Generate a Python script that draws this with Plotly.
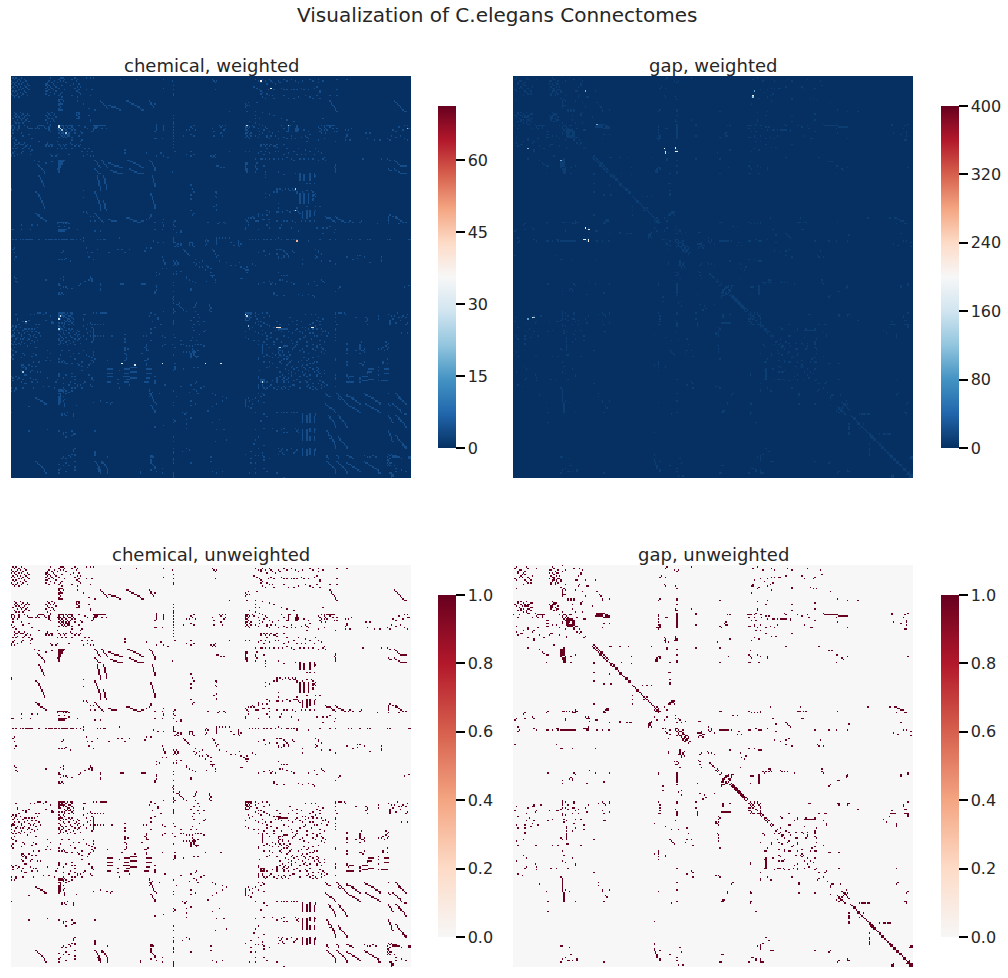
import numpy as np
import plotly.graph_objects as go

N = 279

titles = ['chemical, weighted', 'gap, weighted', 'chemical, unweighted', 'gap, unweighted']
chem_ticks = [0, 15, 30, 45, 60]
gap_ticks = [0, 80, 160, 240, 320, 400]
binary_ticks = [0.0, 0.2, 0.4, 0.6, 0.8, 1.0]
chem_max = 71.25
gap_max = 400
chem_base_weight = 4
gap_base_weight = 10

# (row, col) of the non zero cells
chem_cells = [
    # top left block
    (1,1),(1,3),(1,7),(2,2),(2,5),(2,9),(3,0),(3,4),(3,6),(3,10),(4,1),(4,3),(4,8),(5,0),(5,2),(5,5),(5,7),(5,11),
    (6,3),(6,9),(6,12),(7,1),(7,4),(7,6),(7,10),(8,0),(8,2),(8,8),(8,11),(9,5),(9,7),(9,12),(10,1),(10,3),(10,9),
    (11,2),(11,6),(11,10),(12,0),(12,4),(12,8),(13,1),(13,3),(13,7),(13,11),(14,2),(14,5),
    (1,27),(1,34),(1,35),(1,36),(1,44),(2,33),(2,37),(2,42),(2,46),(3,26),(3,30),(3,34),(3,36),(3,45),(4,25),(4,28),(4,32),(4,38),
    (5,24),(5,25),(5,29),(5,43),(5,47),(6,24),(6,26),(6,30),(6,35),(6,41),(7,25),(7,27),(7,31),(7,46),(7,48),(8,24),(8,28),(8,33),
    (8,44),(9,26),(9,29),(9,37),(9,47),(10,24),(10,25),(10,31),(10,45),(10,46),(11,27),(11,35),(11,47),(12,24),(12,30),(12,34),(12,48),
    (13,26),(13,33),(13,42),(14,35),(14,46),(1,52),(1,55),(1,57),(9,52),(9,56),(13,55),(2,76),(2,87),(2,106),(3,112),(6,113),(9,113),(8,106),(12,113),(13,113),
    (16,33),(16,34),(16,35),(17,33),(17,36),(18,34),(19,33),(19,34),(19,35),(20,33),(21,34),(22,33),(23,33),(23,34),(23,35),(17,46),(19,50),(22,54),(23,58),
    # top streaks
    (17,62),(18,63),(19,64),(20,65),(21,66),(22,67),(20,68),(20,69),(21,70),(21,71),(21,72),(22,73),(22,74),(23,75),(23,76),
    (17,80),(17,81),(18,82),(18,83),(19,84),(19,85),(20,86),(20,87),(21,88),(21,89),(22,90),(23,91),(23,92),(17,96),(18,97),(19,97),(20,98),(21,99),(19,100),
    # second row of blocks
    (25,2),(25,6),(26,3),(26,8),(26,11),(27,2),(27,4),(27,7),(27,10),(27,12),(28,3),(28,5),(28,9),(29,1),(29,6),(29,8),(29,11),(30,4),(30,7),(30,10),(31,2),(31,9),(31,12),
    (32,3),(32,5),(32,8),(25,25),(25,28),(26,26),(26,30),(27,24),(27,27),(27,29),(28,25),(28,31),(29,26),(29,28),(30,24),(30,29),(31,27),(31,30),(32,25),
    (25,45),(25,46),(25,47),(26,45),(26,47),(27,45),(27,46),(28,47),(29,45),(29,46),(29,47),(31,55),(30,55),(27,54),
    (34,0),(34,1),(34,5),(34,9),(35,0),(35,2),(35,5),(35,11),(36,0),(36,2),(36,5),(37,1),(37,4),(36,12),(36,13),(36,14),(36,17),
    (34,19),(34,20),(34,21),(34,22),(35,18),(35,23),(36,19),(36,24),(35,26),(36,26),(37,26),(38,27),(34,27),(33,27),
    (34,33),(34,34),(34,35),(34,36),(34,38),(34,40),(34,41),(34,42),(35,33),(35,36),(35,39),(35,42),(36,32),(36,33),(36,34),(36,36),(36,37),(36,40),(36,41),(36,43),
    (37,33),(37,35),(37,38),(37,42),(38,34),(38,36),(38,39),(38,41),(39,33),(39,35),(39,36),(39,38),(39,40),(39,44),(40,34),(40,36),(40,38),(40,39),(40,40),(41,35),(41,37),(41,39),(41,40),(42,33),(42,36),(42,38),(42,42),
    (34,47),(35,51),(36,53),(37,44),(38,48),(39,49),(41,47),(34,57),(34,58),(34,59),(34,60),(34,61),(34,62),(34,63),(34,64),(34,65),(35,58),(35,59),(35,60),(36,57),(36,58),(36,59),(36,63),(36,66),(37,57),(38,56),
    (33,101),(34,101),(35,101),(36,101),(37,101),(38,100),(34,106),(35,106),(36,106),(37,106),(27,113),(29,113),(31,113),(32,113),(33,113),(35,113),(37,113),(39,113),(41,113),(43,113),(45,113),(47,113),(49,113),
    (35,125),(37,122),(34,127),(36,126),(37,128),(36,126),(37,124),(41,127),(41,120),(40,125),(43,100),(43,105),(43,101),
    (39,1),(41,0),(42,2),(43,1),(39,7),(41,8),(40,12),(43,14),(44,3),(45,19),(46,25),(45,32),(44,42),(46,41),(45,48),(44,49),
    (46,2),(46,5),(46,9),(47,3),(47,4),(47,6),(47,7),(47,8),(47,11),(47,24),(47,25),(47,27),(47,28),(47,33),(47,36),(47,38),(47,42),(47,45),(47,48),(48,2),(48,10),(48,13),(48,24),(48,26),(48,28),(48,34),(48,37),(48,44),(48,47),
    (49,4),(49,9),(50,1),(50,3),(50,8),(50,12),(50,32),(50,35),(50,38),(50,42),(50,51),(50,54),(51,14),(52,2),(52,8),(52,13),(52,49),(52,53),(52,56),(53,1),(53,7),(54,0),(54,4),(54,13),(54,27),(54,32),(54,40),(54,53),(55,0),(55,2),(55,28),(55,31),(55,50),(55,55),(55,57),
    (51,79),(53,79),(53,94),(55,101),(53,104),(55,106),(56,109),(52,114),(54,122),(55,125),(54,127),(52,125),
    # middle left
    (58,33),(58,34),(58,35),(58,36),(58,37),(59,33),(59,34),(59,35),(59,36),(60,33),(60,34),(60,35),(61,33),(61,34),(61,35),(62,33),(62,34),(63,33),(63,34),(64,32),(64,33),(65,33),(66,33),(59,28),(58,16),(59,19),(60,24),
    (61,18),(62,19),(63,20),(64,21),(65,22),(66,23),(67,23),(69,19),(70,20),(71,20),(72,21),(73,21),(74,22),(75,22),(76,23),
    (80,17),(81,18),(82,19),(83,19),(84,20),(85,20),(86,21),(87,21),(88,22),(89,22),(90,23),(91,23),(95,17),(96,18),(96,19),(97,19),(98,20),(98,21),(99,22),(99,23),(100,24),(78,0),(79,0),
    (84,50),(79,50),(94,52),(94,50),(95,53),(97,55),(97,57),(100,55),(100,58),
    # square of streaks
    (58,58),(59,59),(60,60),(61,60),(62,61),(63,62),(58,63),(59,64),(60,64),(61,65),(62,66),(63,67),(60,68),(60,69),(61,70),(61,71),(62,72),(62,73),(62,74),(63,75),(63,76),(63,77),
    (58,81),(58,82),(59,83),(59,84),(60,85),(60,86),(61,87),(61,88),(62,89),(62,90),(63,91),(63,92),(58,96),(59,97),(60,98),(61,98),(62,99),(63,100),(64,100),(65,100),
    (64,58),(65,59),(66,60),(67,61),(67,62),(65,69),(65,70),(66,71),(66,72),(66,73),(67,74),(67,75),(67,76),(67,77),(64,82),(64,83),(65,84),(65,85),(66,86),(66,87),(67,88),(67,89),(67,90),(67,91),(67,92),
    (69,60),(70,60),(71,60),(72,61),(73,61),(74,61),(75,61),(76,62),(77,62),(78,62),(79,62),(69,64),(70,64),(71,65),(72,65),(73,65),(74,65),(75,66),(76,66),(77,66),(78,66),(69,98),(70,98),(71,99),(72,99),(73,99),(74,100),(75,100),(76,100),
    (80,58),(81,58),(82,59),(83,59),(84,60),(85,60),(86,61),(87,61),(88,61),(89,62),(90,62),(91,62),(92,62),(93,62),(86,64),(87,64),(88,65),(89,65),(90,65),(91,65),(92,66),(93,66),(81,97),(82,97),(83,98),(84,98),(85,98),(86,99),(87,99),(88,99),(89,100),(90,100),(91,100),
    (95,58),(96,59),(97,60),(98,61),(99,62),(100,63),(101,64),(99,68),(99,69),(100,70),(100,71),(100,72),(100,73),(98,80),(98,81),(98,82),(99,83),(99,84),(100,85),(100,86),(100,87),(101,88),(101,89),(101,90),(100,91),(100,92),(99,94),(98,96),(97,97),(96,97),
    (66,112),(75,125),(82,125),(78,126),(85,125),(80,127),(93,125),(95,127),(96,126),(101,100),(101,105),(99,106),(103,106),(104,106),(106,105),(106,100),(106,113),(103,113),(101,113),(100,114),(104,114),(108,115),(107,118),(108,118),
    # rows around 100 to 130
    (101,32),(101,33),(101,34),(101,35),(101,36),(101,37),(101,38),(101,39),(102,32),(102,36),(102,38),(102,40),(103,7),(103,14),(103,18),(104,33),(104,37),(105,40),
    (106,0),(106,1),(106,7),(106,13),(106,33),(106,34),(106,35),(106,36),(106,37),(106,38),(107,33),(107,34),(107,35),(107,36),(107,37),(106,46),(107,58),(107,62),
    (113,1),(113,3),(113,6),(113,8),(113,10),(113,11),(113,12),(113,13),(113,14),(113,19),(113,24),(113,26),(113,27),(113,28),(113,30),(113,31),(113,33),(113,35),(113,36),(113,37),(113,38),(113,39),(113,41),(113,42),(113,43),(113,45),(113,48),(112,50),(114,50),(113,60),(113,62),(113,64),(113,65),(114,99),(115,102),(115,106),
    (120,1),(119,2),(122,2),(125,3),(127,2),(122,35),(121,36),(127,33),(127,35),(127,37),(126,38),(128,41),(119,52),(122,53),(122,56),(125,54),(127,57),(120,60),(122,68),(120,74),(120,77),(120,82),(122,79),(119,94),(121,93),(119,97),(127,106),(128,106),(129,107),(130,107),(125,105),
    (112,113),(113,113),(114,113),(115,114),(115,113),(116,116),(117,115),(118,114),(116,118),(117,118),(118,116),(115,124),(116,124),(115,126),(116,126),(117,126),(115,125),(117,124),(114,135),(116,136),(117,135),(118,127),(120,120),(121,121),(122,122),(123,123),(124,124),
    (128,113),(128,115),(129,114),(129,116),(130,116),(130,114),(131,113),(131,115),(127,128),(129,127),(130,129),(128,133),(129,131),(131,128),(132,133),(132,131),(135,115),(135,118),(137,103),(133,108),(133,105),(136,101),(112,75),
    # top right
    (2,140),(3,141),(4,142),(3,143),(9,142),(2,170),(3,172),(4,174),(2,175),(3,177),(5,178),(2,180),(3,181),(4,182),(5,184),(3,186),(4,187),(2,190),(3,192),(2,195),(3,198),(4,200),(3,203),(2,208),(3,210),(2,214),(3,217),(4,214),(2,227),(2,234),
    (7,169),(8,171),(9,173),(10,174),(11,175),(9,179),(8,181),(9,183),(8,188),(9,190),(9,192),(9,195),(9,197),(9,199),(8,202),(9,204),(9,207),(8,211),(7,213),(10,215),(12,174),(12,178),(13,180),(13,182),(14,175),(15,177),(15,183),(13,190),(15,193),(15,197),(14,200),(13,205),(14,208),(15,210),(13,213),(15,215),(13,222),(11,215),(9,227),(13,227),
    (19,163),(20,164),(18,165),(20,166),(21,163),(18,171),(24,164),(17,222),(18,223),(19,223),(20,224),(21,225),(22,226),(23,226),(24,227),(17,267),(18,268),(19,269),(20,270),(21,271),(22,272),(23,273),(24,274),(24,275),
    (24,152),(24,170),(25,175),(26,180),(27,183),(29,170),(29,173),(29,188),(30,192),(31,197),(29,217),(27,170),(31,166),(32,170),
    # rows 33 to 57, right part
    (36,140),(38,141),(34,145),(34,147),(34,149),(35,146),(36,149),(37,148),(39,146),(41,147),(41,141),
    (34,163),(34,164),(34,165),(35,163),(35,164),(35,166),(36,163),(36,165),(37,163),(37,164),(34,168),(35,169),(38,165),(39,163),(39,164),(39,167),(40,163),(40,166),(41,164),(41,167),(42,163),(42,165),(43,166),(41,170),(42,172),
    (33,173),(34,175),(35,177),(36,172),(36,178),(37,176),(38,173),(38,180),(39,175),(39,182),(40,173),(41,178),(41,181),(41,184),(42,178),(43,180),(43,186),(38,186),(34,188),(36,190),(38,192),(42,190),(43,192),
    (34,193),(34,194),(35,193),(36,193),(37,193),(38,193),(34,199),(35,199),(36,198),(36,199),(36,200),(37,198),(37,199),(37,200),(38,198),(38,199),(41,195),(43,195),(43,198),(42,202),(37,204),(38,207),(40,208),(41,205),(42,206),(43,207),(45,206),
    (34,216),(34,218),(34,220),(34,221),(34,222),(34,223),(34,224),(34,225),(35,214),(35,218),(35,222),(36,215),(36,219),(36,224),(36,227),(37,216),(37,218),(37,220),(38,215),(38,225),(38,227),(39,216),(39,219),(44,214),(43,218),(45,226),
    (36,237),(37,235),(37,233),(40,234),(41,234),(42,233),(44,233),(44,236),(39,247),(39,250),(43,248),(44,253),(44,257),(43,262),(37,266),(41,265),(38,268),(35,270),(34,274),(34,276),(37,273),(41,271),(44,264),(42,268),(43,274),(36,277),(44,276),
    (47,174),(47,176),(47,178),(47,181),(48,183),(47,185),(47,190),(48,174),(48,177),(48,180),(48,184),(49,185),(50,178),(50,192),(50,200),(51,205),(50,212),(52,152),(52,163),(52,166),(53,172),(54,176),
    (52,174),(52,177),(53,180),(52,184),(52,186),(54,190),(53,193),(52,197),(54,199),(54,202),(54,205),(52,208),(54,211),(52,214),(53,216),(55,139),(55,141),(56,140),(56,142),(54,142),
    (57,170),(57,174),(57,175),(57,177),(57,180),(57,183),(57,186),(57,189),(56,192),(57,195),(58,197),(57,201),(57,204),(57,207),(57,210),(58,214),(57,217),(58,219),(56,218),(57,245),(57,258),(57,262),(58,264),
    # rows 58 to 100, right part
    (60,163),(61,163),(62,163),(63,163),(64,163),(65,163),(60,164),(61,164),(64,164),(65,164),(66,164),(63,170),(60,171),(62,170),(64,171),(66,170),(62,176),(66,177),(62,143),(62,144),(63,146),(63,148),(62,226),(63,225),(64,226),(65,226),(66,226),(61,226),
    (58,267),(59,268),(60,269),(61,270),(62,271),(62,272),(62,273),(62,274),(62,275),(64,263),(65,264),(65,265),(64,267),(65,268),(66,270),(67,271),(67,272),(67,273),(67,274),(67,275),
    (67,201),(68,201),(69,201),(70,201),(71,201),(72,201),(68,204),(69,204),(70,204),(71,204),(72,204),(67,208),(68,208),(69,208),(70,208),(71,208),(72,208),(67,211),(68,211),(69,211),(70,211),(69,212),(74,206),(74,208),(74,211),(68,177),(66,186),(67,198),(70,177),(66,177),(68,190),
    (78,185),(78,187),(79,185),(79,189),(78,191),(78,193),(79,194),(78,196),(79,197),(79,198),(80,199),(81,199),(81,177),(84,177),(80,183),(80,185),(81,201),(80,203),(79,206),(79,209),(80,210),(82,211),(82,180),(80,143),(81,143),(80,142),(83,142),(84,143),
    (81,201),(82,201),(83,201),(84,201),(85,201),(86,201),(87,201),(88,201),(81,204),(82,204),(83,204),(84,204),(85,204),(86,204),(87,204),(88,204),(81,207),(82,207),(83,207),(84,207),(85,207),(86,207),(87,207),(88,207),(82,210),(83,210),(85,210),(86,210),(81,212),(83,212),
    (88,186),(91,186),(91,199),(90,206),(90,212),(90,215),(94,180),(94,186),(94,189),(93,192),(94,194),(93,197),(93,199),(94,185),(94,200),(95,201),
    (94,203),(95,203),(96,203),(97,203),(98,203),(93,206),(94,206),(95,206),(96,206),(97,206),(98,206),(93,208),(94,208),(95,208),(96,208),(97,208),(94,211),(95,211),(96,211),(93,212),(93,178),(95,172),
    (90,141),(92,143),(93,143),(89,143),(96,178),(96,175),(96,172),(97,168),(97,172),(98,165),(98,167),(98,169),(99,163),(99,175),(99,176),(99,179),(100,164),(99,180),(101,165),(100,170),(100,171),(100,172),(100,185),(100,190),(100,192),(100,196),(101,198),(100,202),(100,205),(100,208),(100,211),
    (97,219),(98,220),(98,221),(98,222),(99,223),(100,224),(100,225),(101,226),(97,226),(98,227),(99,228),(99,229),(100,230),(100,231),(101,232),(101,233),(101,235),(101,238),(101,243),(100,236),
    (97,263),(98,263),(99,263),(100,263),(96,264),(97,266),(97,268),(98,268),(98,269),(99,270),(100,271),(100,272),(101,273),(101,275),(102,263),(102,270),(100,244),(102,255),
    (101,137),(101,145),(102,144),(101,148),(102,149),(105,163),(106,163),(103,165),(106,172),(103,178),(103,188),(105,180),(105,187),(101,180),(105,213),(105,217),(107,200),(105,195),(109,217),(108,225),(106,226),(105,220),(104,222),
    (113,166),(113,168),(113,170),(113,172),(113,176),(113,178),(113,181),(113,184),(112,186),(113,188),(113,192),(113,193),(113,195),(113,197),(113,199),(114,207),(113,215),(113,222),(113,226),(113,235),(113,237),(113,243),(113,248),(113,250),(113,262),(113,264),(113,277),(113,278),
    (112,143),(113,143),(114,143),(115,143),(116,143),(113,136),(114,137),(112,145),(112,147),(112,149),(112,152),(114,158),(115,158),(116,158),(117,158),(118,159),(115,153),(117,155),(116,160),
    (120,140),(121,141),(123,142),(125,143),(124,144),(128,145),(129,150),(131,153),(131,156),(129,159),(132,160),(133,162),(134,163),(134,164),(134,165),
    (122,172),(121,176),(124,177),(123,180),(120,185),(123,185),(125,190),(120,188),(125,193),(121,196),(122,197),(124,190),(121,190),(122,191),(123,192),(124,193),(125,186),(126,186),(126,188),(120,187),(127,203),(130,203),(120,212),(122,214),(124,212),(121,214),(123,216),(125,213),(126,212),(128,216),(130,226),
    (125,234),(126,241),(124,241),(124,243),(125,246),(129,250),(128,258),(125,258),(127,258),(127,238),(128,222),(130,226),
    (131,136),(132,137),(133,139),(134,135),(136,139),(138,139),(136,164),(132,164),(130,168),(131,170),(136,186),
    # rows 137 to 163
    (139,2),(140,3),(142,3),(143,4),(141,24),(140,34),(141,36),(139,36),(144,33),(145,33),(145,34),(146,36),(146,38),(147,39),(147,34),(147,42),(145,47),(144,48),(142,51),(141,54),(141,56),(140,55),(139,55),(140,56),(142,56),(144,62),(145,62),(147,62),(148,62),
    (144,76),(144,77),(144,78),(144,91),(144,92),(144,93),(138,101),(145,101),(146,101),(148,101),(149,100),(150,100),(145,113),(143,113),(149,113),(139,122),(140,122),(141,124),(142,126),(143,128),(147,125),(148,125),(137,113),(137,115),
    (150,33),(151,34),(151,36),(150,35),(150,33),(151,33),(153,113),(154,112),(155,113),(157,113),(158,115),(157,117),(158,116),(159,117),(160,118),(161,119),(162,120),(163,122),(159,128),(160,127),(163,128),(158,128),(157,129),
    (161,113),(162,113),(163,114),
    (139,140),(141,142),(138,141),(143,142),(142,136),(140,160),(140,161),(138,140),(144,172),(143,176),(142,180),(143,182),(144,181),(144,184),(142,192),(143,195),(141,189),(141,187),(138,188),(138,190),(138,192),(144,197),(144,207),(142,211),(145,213),(141,216),(142,217),(143,218),(149,226),(146,229),(147,228),(145,277),(146,274),(152,203),(152,185),(152,190),(151,200),(151,207),(152,210),(153,211),(150,183),(151,183),
    (158,138),(159,138),(160,139),(161,139),(162,138),(163,139),
    # block rows 164 to 222, left
    (165,3),(165,13),(165,16),(164,18),(164,19),(164,20),(165,22),(166,27),(164,24),(168,4),(169,4),(170,8),(171,10),(169,12),(172,5),(172,17),(172,19),(170,28),(171,29),
    (164,33),(164,34),(164,35),(164,36),(164,37),(164,39),(164,41),(164,42),(165,33),(165,35),(165,38),(165,42),(166,33),(166,34),(166,35),(166,36),(166,37),(166,40),(166,41),(167,33),(167,36),(167,38),(167,42),(168,33),(168,34),(168,39),(168,40),(168,43),(169,37),(169,39),(169,41),(170,38),(170,40),(170,41),(170,43),(171,35),(171,37),(171,42),(172,37),(172,40),(172,43),
    (165,50),(165,51),(168,50),(169,50),(164,57),(164,59),(164,62),(164,63),(164,64),(164,65),(164,66),(171,33),(169,24),(171,28),
    (171,55),(172,53),(172,56),(172,58),(172,60),(172,62),(172,64),
    (173,1),(173,3),(174,0),(174,3),(174,6),(175,2),(175,9),(175,10),(175,12),(175,14),(175,16),(174,18),(176,1),(176,4),(176,8),(177,11),(177,14),(177,17),(178,2),(178,5),(178,9),(178,19),(179,1),(179,7),(179,12),(179,16),
    (180,0),(180,1),(180,2),(180,7),(180,13),(180,15),(180,20),(181,0),(181,4),(181,9),(181,17),(182,3),(182,6),(182,8),(182,12),(183,0),(183,11),(183,14),(183,18),(184,2),(184,7),(184,16),(185,0),(185,5),(185,9),(185,13),(186,1),(186,3),
    (173,33),(173,36),(174,37),(174,34),(175,33),(175,34),(175,35),(175,40),(175,42),(176,33),(176,36),(176,38),(176,41),(176,46),(177,34),(177,43),(177,47),(178,36),(178,40),(178,45),(179,33),(179,37),(179,44),(179,47),(180,34),(180,41),(180,46),(181,35),(181,38),(181,42),(181,48),(182,33),(182,36),(182,44),(182,47),(183,33),(183,35),(183,40),(183,46),(184,34),(184,38),(184,43),(185,34),(185,36),(185,41),(185,48),(186,33),(186,39),(186,44),
    (173,50),(175,52),(177,55),(178,53),(180,50),(180,55),(182,52),(184,56),(174,56),(175,57),(176,57),(177,57),(178,57),(179,57),(180,57),(181,57),(182,57),(183,57),(180,58),(180,60),(180,62),(180,64),(180,70),(179,79),(182,79),(184,79),(180,92),(180,94),(175,97),(178,97),(183,97),(174,100),(172,104),
    (186,6),(187,11),(188,17),(188,2),(189,0),(190,1),(191,3),(193,1),(194,0),(195,0),(195,7),(192,8),(193,9),(192,15),(194,14),(196,1),(193,17),(190,25),(195,25),(192,27),(197,27),(196,33),(193,34),(190,35),(198,33),(198,35),(197,36),(198,37),(199,38),(199,39),(190,40),(194,41),(192,43),(196,44),(199,42),(199,46),(200,47),(192,47),(190,50),(193,52),
    (198,15),(198,19),(200,12),(201,9),(197,24),(194,54),(195,56),(191,57),(193,57),(197,56),(198,57),(199,55),(200,54),(196,58),
    (200,7),(200,8),(201,7),(202,8),(202,10),(203,10),(204,7),(205,8),(201,14),(201,17),(204,14),(205,13),(205,18),(205,20),(207,9),(207,10),(208,0),(208,3),(209,1),(209,5),(209,13),(210,4),(210,8),(210,15),(210,17),(211,1),(212,7),(212,14),(212,18),(209,25),(212,31),(210,32),(213,9),(213,10),(213,36),(213,44),
    (198,49),(201,49),(204,49),(202,53),(207,54),(212,51),(213,50),(214,48),(214,46),(215,46),(216,44),(214,55),(215,56),(209,56),(210,56),(211,57),(206,33),(207,33),(208,33),(207,38),(209,36),(212,41),(214,40),(208,44),(210,44),(206,42),(208,42),
    (216,0),(216,3),(216,8),(217,3),(216,15),(215,26),(216,30),(217,33),(217,34),(217,35),(216,36),(217,37),(218,36),(218,35),(218,38),(219,36),(220,33),(219,40),(218,42),(216,49),(220,38),(216,42),(215,22),(218,0),(218,2),
    (197,67),(197,79),(195,80),(196,80),(189,79),(188,79),(192,79),(193,80),(189,81),(190,79),(190,94),(190,95),(189,94),(188,93),(192,91),(187,94),(186,94),(197,94),(199,94),(200,94),(196,95),
    # horizontal dashes
    (203,67),(203,68),(203,69),(203,70),(206,67),(206,68),(206,69),(206,70),(208,67),(208,68),(208,69),(208,70),(212,67),(212,68),(212,69),(203,79),(203,80),(203,81),(203,82),(206,79),(206,80),(206,81),(208,78),(208,79),(208,80),(208,81),(208,82),(210,80),(210,81),(212,79),(212,80),(212,81),
    (202,83),(202,84),(202,85),(202,86),(202,87),(205,83),(205,84),(205,85),(205,86),(205,87),(209,83),(209,84),(209,85),(209,86),(209,87),
    (203,94),(203,95),(203,96),(203,97),(206,94),(206,95),(206,96),(206,97),(209,94),(209,95),(209,96),(212,93),(212,94),(212,95),(197,93),(211,100),(208,100),(212,100),(213,100),(217,96),(214,107),(218,96),
    (204,75),(210,74),(213,74),(216,75),(210,82),(214,82),(220,96),(222,96),(219,98),(220,103),
    # blocks down the middle
    (164,97),(165,100),(166,96),(167,102),(168,102),(170,98),(169,113),(170,113),(171,113),(172,113),(163,106),(164,113),(180,105),(181,107),(179,113),(183,118),(186,112),(188,114),(186,118),(186,120),(187,122),(187,124),(187,126),(186,128),(186,130),(186,132),(187,134),
    (191,120),(191,122),(191,124),(191,126),(191,128),(190,130),(192,125),(193,125),(194,125),(195,125),(189,126),(190,127),(191,127),(192,127),(193,127),(194,128),(194,129),(194,130),(195,129),
    (169,125),(167,127),(165,130),(167,131),(170,130),(172,131),(172,127),(174,126),(170,134),(176,135),(183,129),(183,125),(181,126),(179,131),(177,134),(176,127),(181,114),(186,107),(187,105),(193,113),(199,114),(201,114),(202,114),(203,114),(204,113),(215,118),(218,113),(214,125),(213,128),(216,132),(215,134),(212,129),(218,129),(220,130),(217,127),(219,124),(222,115),(202,127),(202,130),(203,120),
    # bottom left
    (222,33),(223,33),(224,33),(225,33),(226,33),(227,33),(220,34),(221,34),(222,34),(223,34),(224,34),(225,34),(226,34),(218,33),(218,34),(222,36),(224,37),(225,36),(227,37),(228,37),(229,37),(228,45),(223,17),(224,18),(224,19),(225,20),(225,21),(226,22),(226,23),(227,23),(227,24),
    (229,12),(226,57),(225,62),(226,66),(227,69),(226,70),(226,67),(221,97),(222,98),(223,98),(224,99),(225,99),(226,100),(220,97),(228,97),(229,98),(230,98),(231,99),(232,100),(233,100),(227,101),(226,113),(228,113),(228,125),(227,128),(225,125),
    (233,0),(234,35),(234,37),(235,38),(235,35),(233,39),(234,43),(236,43),(235,43),(237,125),(238,113),(239,114),(240,113),(233,119),(234,121),(233,122),(238,122),(241,122),(244,122),
    (246,12),(245,25),(246,33),(247,36),(248,36),(247,38),(250,38),(249,42),(248,43),(246,58),(246,42),(248,44),(243,100),(242,106),(250,113),
    (260,119),(258,122),(259,124),(258,113),(261,113),(260,113),(253,113),(259,43),(258,44),(260,43),(262,42),(262,44),(263,44),(260,58),(261,58),(262,58),(263,58),(264,36),(265,35),(265,38),(264,41),(263,40),(264,67),(264,98),(264,99),(264,97),(263,97),(263,98),(265,113),(266,113),
    (267,17),(268,18),(269,19),(270,20),(271,21),(272,22),(273,23),(274,23),(275,24),(269,33),(270,36),(270,40),(268,38),(267,44),(272,34),(273,33),(275,33),(274,38),(271,44),(273,44),
    (267,58),(268,59),(269,60),(270,60),(271,61),(272,61),(273,62),(274,62),(275,62),(272,60),(273,61),(274,61),(267,63),(268,64),(269,65),(270,65),(271,66),(272,67),(273,67),(274,67),(275,67),(268,63),
    (267,97),(268,97),(269,98),(270,99),(271,100),(272,100),(273,97),(274,90),(275,90),(266,97),(272,105),(275,105),(274,101),(277,113),(278,113),(276,113),(275,113),(268,113),(268,125),
    # main block right, rows 164 to 222
    (164,163),(164,164),(164,165),(164,166),(164,167),(165,163),(165,165),(165,167),(166,163),(166,164),(166,166),(167,164),(167,165),(167,167),(168,163),(168,166),(169,163),(169,164),(169,165),(164,170),(165,172),(166,170),(168,171),(170,172),(170,174),(171,170),(172,172),(173,174),
    (164,175),(164,178),(167,176),(166,180),(171,176),(172,178),(173,180),(174,183),(170,185),(172,187),(172,193),(170,196),(169,199),(172,199),(170,202),(174,203),(167,194),(165,205),(165,209),(165,212),(167,214),(168,217),(169,213),(170,215),(172,215),(171,210),(172,208),(174,205),(175,210),(175,213),(175,216),(176,219),(177,217),(173,212),
    (175,166),(174,168),(177,163),(177,170),(178,172),(176,175),(178,177),(179,175),(180,178),(178,181),(176,184),(175,186),(175,187),(175,188),(175,189),(175,190),(175,191),(175,192),(176,186),(177,188),(177,193),(178,196),(176,198),(175,199),(177,201),(178,203),(176,205),(175,207),(178,208),(178,210),(180,205),(180,211),(179,216),(177,219),(178,221),(180,220),
    (181,163),(182,165),(183,169),(183,172),(184,176),(182,178),(181,181),(184,183),(182,185),(184,188),(180,190),(181,193),(183,195),(184,199),(182,201),(181,204),(184,206),(182,209),(180,213),(183,215),(184,218),
    (186,172),(186,175),(187,175),(188,175),(189,175),(190,175),(191,175),(186,178),(188,180),(186,183),(188,186),(187,190),(187,191),(187,192),(188,187),(189,186),(188,189),(190,187),(191,186),(190,189),(191,189),(192,186),(193,187),(191,193),(193,194),(189,196),(188,197),(187,198),(186,199),(185,196),(187,206),(186,210),(187,213),(186,215),(189,210),(188,213),(190,212),(188,216),(191,216),(192,218),(190,219),(189,217),(191,204),(192,207),(190,201),(189,203),
    (192,175),(193,178),(194,176),(194,180),(192,182),(195,182),(193,184),(195,186),(194,188),(193,190),(194,192),(195,193),(196,190),(196,192),(197,195),(198,194),(199,193),(200,192),(199,188),(197,188),(198,187),(195,172),(196,172),(198,180),(199,182),(198,176),(198,200),(197,202),(195,204),(196,207),(197,206),(195,210),(198,211),(199,208),(194,214),(198,213),(199,210),(200,206),(200,203),
    (201,180),(202,178),(204,173),(202,185),(205,187),(203,191),(204,193),(202,195),(201,196),(202,199),(203,197),(205,195),(206,193),(204,200),(206,198),(208,195),(201,202),(202,204),(203,205),(204,207),(205,203),(206,205),(207,208),(208,206),(202,208),(203,210),(205,211),(207,204),(202,213),(203,214),(204,213),(205,214),(206,215),(207,213),(208,213),(208,216),(204,218),(206,218),
    (210,174),(210,175),(210,176),(211,174),(211,176),(212,174),(212,175),(212,176),(208,172),(209,172),(212,178),(211,182),(209,185),(210,185),(211,185),(212,185),(208,187),(207,189),(209,190),(210,189),(211,190),(212,190),(210,192),(212,193),(208,191),(209,193),(207,195),(211,197),(210,199),(208,201),(212,201),(214,197),(211,205),(210,208),(212,206),(213,210),(214,207),(215,210),(213,214),(211,215),(212,217),(213,218),
    (214,175),(215,175),(216,176),(217,177),(216,178),(215,180),(214,181),(216,183),(217,185),(215,186),(216,188),(217,189),(215,190),(216,191),(217,193),(215,194),(214,196),(216,201),(215,206),(216,208),(217,210),(216,212),(217,213),(214,216),(215,218),(216,216),(214,220),(214,172),(215,172),(216,172),
    # right of main block, top rows
    (164,226),(164,228),(164,229),(164,230),(164,232),(165,226),(165,233),(167,226),(170,226),(172,227),(167,240),(167,247),(168,248),(169,248),(170,247),(172,248),(166,256),(168,256),(165,263),(166,265),(166,267),(164,269),(167,270),(167,272),(169,264),(170,264),(171,264),(172,264),(168,266),(171,268),(169,271),(166,273),(167,275),(165,276),(171,276),(172,275),(175,226),(176,226),(179,226),(178,272),(178,276),(181,226),(183,226),
    (185,234),(186,234),(189,234),(190,234),(192,234),(186,243),(187,243),(188,243),(189,243),(190,240),(190,244),(190,245),(189,246),(191,246),(187,243),(184,244),(192,243),(189,256),(189,258),(188,259),(190,260),(187,261),(186,262),(188,263),(185,263),(189,262),(184,261),
    (196,226),(197,226),(198,234),(200,234),(199,243),(199,244),(200,245),(198,246),(196,262),(198,259),(199,262),(199,259),(207,226),(209,226),(210,226),(207,234),(208,234),(212,234),
    (208,234),(209,235),(208,236),(208,237),(208,238),(212,234),(212,235),(212,236),(212,237),(212,238),(210,243),(212,243),(209,243),(205,248),(205,249),(205,250),(205,251),(206,248),(208,245),(208,246),(208,247),(208,248),(211,245),(211,246),(211,247),(211,248),
    (203,249),(203,250),(203,251),(203,252),(210,249),(210,250),(210,251),(210,252),(202,256),(204,256),(207,256),(211,256),(211,258),(211,262),(211,261),(211,260),(211,259),(203,260),(203,261),(203,262),(203,263),(206,260),(206,261),(206,262),(206,263),(215,226),
    # block of diagonal streaks
    (220,219),(221,220),(222,221),(222,222),(220,227),(221,228),(222,229),(223,230),(224,231),(225,232),(226,233),(227,234),(223,228),(224,229),(221,234),(222,235),(222,236),(223,237),(223,238),(224,239),(225,240),(226,241),(226,242),(227,243),(222,234),(224,238),
    (220,246),(221,247),(221,248),(222,249),(222,250),(223,251),(223,252),(224,253),(225,254),(225,255),(226,256),(226,257),(227,257),(220,268),(221,269),(222,270),(223,271),(224,272),(225,273),(226,274),(227,275),(223,270),(224,271),(220,263),
    (227,219),(228,220),(229,221),(230,222),(230,223),(231,224),(232,225),(233,226),(227,234),(228,235),(229,236),(229,237),(230,238),(230,239),(231,240),(232,241),(232,242),(233,243),(227,247),(228,248),(228,249),(229,250),(230,251),(230,252),(231,253),(231,254),(232,255),(232,256),(233,257),(228,267),(229,268),(230,269),(231,270),(232,271),(233,272),(234,274),(234,275),(231,271),(227,263),(227,266),(228,264),
    (235,221),(236,222),(237,222),(238,223),(239,224),(240,225),(241,225),(242,226),(243,226),(235,228),(236,229),(237,229),(238,230),(239,231),(240,232),(241,233),(242,233),(243,234),(235,263),(236,263),(237,264),(238,265),(239,265),(240,266),
    (235,268),(236,269),(237,270),(238,271),(239,272),(240,273),(241,274),(242,274),(243,275),(238,270),(239,271),
    (246,220),(247,221),(248,221),(249,222),(250,223),(251,223),(252,224),(253,224),(254,225),(255,225),(256,226),(257,226),(258,226),(249,221),(251,222),(253,225),(250,228),(251,229),(252,229),(253,230),(254,231),(255,232),(256,233),(257,234),(258,234),(246,263),(247,263),(248,264),(249,264),(250,265),(251,265),(252,265),(253,266),
    (249,268),(250,269),(251,269),(252,270),(253,271),(254,272),(255,273),(256,273),(257,274),(258,275),(256,274),(257,275),
    (263,220),(264,220),(265,221),(263,227),(264,228),(265,228),(263,234),(263,235),(264,236),(264,237),(265,238),(263,246),(264,248),(264,250),(263,252),(264,254),(266,262),(266,263),(264,262),(265,264),(263,264),(262,265),(263,266),(263,268),(264,266),(264,267),(264,268),(264,269),(264,270),(263,267),(262,263),(265,272),(265,277),(264,278),(264,277),(265,278),(267,263),(268,262),(268,264),(269,263),(270,264),(268,265),(270,267),
    (267,220),(268,221),(269,222),(270,223),(271,224),(272,225),(273,226),(274,226),(275,226),(267,227),(268,228),(269,229),(270,230),(271,231),(272,232),(273,233),(274,234),(275,234),(268,234),(269,235),(269,236),(270,237),(271,238),(271,239),(272,240),(273,241),(273,242),(274,243),
    (267,246),(268,247),(268,248),(269,249),(270,250),(270,251),(271,252),(272,253),(272,254),(273,255),(274,256),(275,257),(273,256),(275,256),(270,262),(272,268),(273,272),(274,268),(274,275),(275,264),(275,265),(276,265),(277,265),(278,265),(276,266),(277,266),
    # bars under the main block
    (234,203),(235,203),(236,203),(237,203),(238,203),(239,203),(240,203),(235,206),(236,206),(237,206),(238,206),(239,206),(240,206),(234,208),(235,208),(236,208),(237,208),(238,208),(239,208),(240,208),(236,211),(237,211),(238,211),(239,211),(240,211),(234,212),(235,212),
    (245,203),(246,203),(247,203),(248,203),(249,203),(250,203),(251,203),(252,203),(245,206),(246,206),(247,206),(248,206),(249,206),(250,206),(251,206),(252,206),(244,208),(245,208),(246,208),(250,208),(251,208),(252,208),(244,211),(245,211),(246,211),(247,211),(250,211),(251,211),(252,211),(245,212),
    (258,203),(259,203),(260,203),(261,203),(262,203),(263,203),(259,206),(260,206),(261,206),(262,206),(263,206),(258,208),(259,208),(260,208),(261,208),(262,208),(259,211),(260,211),(261,211),(262,211),(263,211),(258,212),(259,212),
    (233,185),(233,188),(233,190),(233,192),(233,195),(233,197),(233,199),(244,182),(246,185),(245,188),(244,190),(247,190),(247,192),(244,198),(246,199),(245,200),(247,200),(258,186),(258,189),(259,188),(260,187),(261,189),(262,186),(262,190),(259,192),(258,195),(261,197),(260,198),(259,199),
    (220,172),(220,175),(221,176),(222,174),(223,170),(224,168),(225,166),(223,165),(224,163),(225,163),(226,163),(227,163),(228,163),(229,163),(229,165),(230,167),(227,168),(225,172),(226,176),(234,176),(233,170),(236,178),(239,174),(244,176),(245,170),(250,172),(252,170),(255,169),(256,176),(258,172),(260,167),(262,163),(263,170),(263,172),(263,175),(264,176),(266,176),(265,167),(268,167),(268,170),(272,170),(272,176),(274,178),(275,166),(275,170),(278,190),(261,175),(265,180),(275,185),
    (220,140),(221,142),(223,150),(225,147),(222,147),(227,143),(229,140),(232,137),(238,145),(240,140),(245,148),(245,143),(253,142),(252,150),(264,139),(267,139),(274,140),(275,143),(274,147),
]

gap_cells = [
    (1,2),(2,10),(2,16),(5,25),(1,27),(5,30),(3,36),(2,42),(2,46),(6,47),(7,45),(10,43),(13,46),(14,51),(7,5),(6,6),(9,1),(9,11),(12,12),(13,7),(6,8),(8,10),(10,12),(3,4),(5,3),(4,8),
    (9,25),(9,28),(10,30),(13,26),(13,29),(7,32),(7,30),(6,28),(7,26),(4,29),(11,33),(12,31),(3,25),(8,27),(11,27),(9,31),(4,34),
    (8,102),(2,106),(3,112),(3,115),(1,124),(8,106),(14,106),(14,113),(23,114),(24,101),(31,114),(31,113),(30,124),(34,127),(34,101),(36,106),(33,114),(35,114),(36,114),(37,114),(38,114),(39,114),(40,114),(41,114),(42,114),(43,114),(41,127),(41,101),(42,102),(44,101),(43,102),(52,105),(53,108),(51,113),(58,107),(62,114),(66,114),(67,109),(74,108),(81,109),(82,109),(65,99),(63,102),(64,100),(66,99),
    (35,57),(35,58),(35,59),(35,60),(35,61),(35,62),(36,63),(36,64),(36,65),(36,66),(36,67),(18,58),(21,61),(24,62),(23,67),(28,55),(17,34),(18,34),(19,34),(20,34),(21,34),(17,36),(24,38),(24,40),(24,42),(26,47),(27,47),(16,35),(13,36),(15,33),
    (26,3),(27,5),(28,2),(28,8),(29,4),(30,7),(30,11),(31,5),(27,10),(26,12),(29,12),(32,9),(33,10),(31,12),(28,10),(31,3),(27,25),(28,27),(29,29),(30,26),(31,30),(27,29),(31,28),(26,28),(30,30),(27,27),(29,26),
    (38,23),(40,23),(42,23),(41,27),(41,30),(34,17),(35,20),(36,20),(47,5),(48,3),(44,10),(45,14),(43,17),(48,25),(48,32),(50,37),(43,42),(47,46),(50,49),(36,44),(38,41),(37,49),(34,32),(36,36),(37,38),(34,0),(35,34),(36,34),(38,36),(37,37),(40,34),(39,39),(38,37),(38,38),(38,39),(38,40),(39,41),(40,41),(41,41),(42,40),(42,39),(42,38),(41,37),(40,37),(39,37),(43,32),(42,44),(44,46),(36,38),(37,35),(39,34),(41,42),
    (58,33),(59,33),(60,33),(61,33),(62,33),(63,33),(58,34),(59,34),(60,34),(61,34),(62,34),(64,35),(65,35),(66,35),(67,35),(64,34),(65,34),(67,40),(63,40),(62,43),(58,18),(60,20),(62,23),(55,28),(57,10),(52,14),(48,18),(50,21),
    (56,67),(56,74),(56,80),(56,96),(68,56),(74,56),(80,56),(68,82),(93,83),(96,83),(83,90),(83,93),(83,96),(91,93),(63,82),(75,67),
    (56,55),(57,56),(58,57),(59,58),(60,59),(61,60),(62,61),(63,62),(64,63),(62,60),(61,61),(65,64),(66,65),(67,67),(68,68),(69,68),(70,70),(70,69),(71,71),(72,72),(72,71),(73,73),(74,74),(75,75),(76,76),(75,74),(77,77),(78,78),(79,79),(80,80),(81,81),(81,80),(79,78),(83,83),(84,84),(85,85),(86,86),(87,87),(88,88),(89,89),(87,86),(90,90),(91,91),(92,92),(93,93),(94,94),(95,95),(96,96),(97,97),(98,98),(99,99),(100,100),(101,101),(100,101),(101,102),(99,101),(98,100),
    (101,35),(101,37),(101,39),(101,41),(101,43),(103,7),(102,23),(102,41),(100,43),(107,1),(106,8),(105,13),(107,36),(106,51),(113,51),(114,51),(112,52),(107,57),(114,58),(101,63),(100,65),(100,66),(102,64),(114,62),(114,67),
    (114,4),(113,14),(114,16),(114,24),(114,27),(113,30),(113,31),(114,33),(114,34),(114,35),(114,36),(114,37),(114,38),(114,39),(114,40),(114,41),(114,42),(114,43),(109,74),(109,79),(109,82),(111,94),(110,94),(110,95),(109,95),(108,96),(112,94),(96,109),(95,110),(95,111),(96,112),(98,105),(100,107),(104,113),(106,115),(107,116),(109,117),(105,107),(108,120),
    (108,129),(108,130),(115,137),(116,129),(117,132),(114,136),(116,140),(116,130),(116,128),(113,138),(112,136),(115,131),(119,129),
    (113,113),(114,113),(115,114),(116,115),(117,115),(118,116),(118,117),(115,117),(116,118),(117,119),(119,119),(120,118),(121,118),(122,119),(122,120),(121,121),(120,121),(119,120),(123,122),(114,118),(113,104),(114,109),(113,106),
    (130,108),(130,116),(131,116),(132,117),(133,117),(130,131),(130,136),(135,129),(137,115),(127,33),(127,41),(127,57),(129,116),(130,118),(131,118),(132,119),(130,138),
    (137,137),(138,138),(139,139),(140,140),(141,142),(142,143),(150,150),(151,152),(152,153),(153,154),(154,155),(155,156),(156,157),(157,158),(158,159),(159,160),(160,161),(161,162),(162,163),(158,158),(159,159),(160,160),(153,153),(156,156),(154,154),(155,155),(157,157),(161,161),
    (147,148),(146,150),(149,151),(151,148),(152,145),(152,146),(153,145),(145,144),(147,147),(146,148),(148,150),(150,146),(149,146),(145,150),(147,152),
    (146,165),(146,166),(146,167),(145,171),(146,171),(147,171),(148,171),(149,171),(150,171),(151,171),(151,165),(142,179),(144,175),(141,179),(143,189),(144,196),(143,215),(144,216),(146,232),(147,232),(146,233),(153,220),(149,226),(146,270),(145,275),(140,158),(143,191),
    (165,164),(166,165),(167,166),(168,167),(165,168),(165,170),(165,172),(166,171),(168,164),(170,164),(169,169),(170,170),(172,168),(172,170),(172,171),(172,172),(168,172),(170,172),(167,172),
    (165,206),(165,226),(165,233),(165,234),(169,240),(170,264),(172,265),(172,266),(169,273),(172,273),(172,274),(167,272),(179,267),(180,267),(181,267),(179,218),(177,216),(199,220),(199,221),(199,227),(206,165),(207,165),(210,227),(210,267),(213,217),(218,212),(216,194),(218,180),(215,141),(196,144),(176,143),(178,143),(180,143),(178,141),(174,143),(187,143),(186,142),(226,165),(227,165),(227,166),(221,152),(227,149),(233,145),(233,146),(233,165),(233,166),
    (175,176),(179,180),(184,183),(182,186),(184,190),(180,193),(175,204),(176,207),(175,210),(172,213),(172,192),(177,196),(175,198),(174,186),(187,175),(186,185),(187,187),(189,189),(187,193),(185,197),(185,201),(185,205),(186,210),(182,211),(189,197),(188,205),(188,210),(192,180),(192,185),(192,191),(192,198),(192,211),(195,194),(198,207),(195,210),(198,211),(198,193),(198,198),(197,201),(198,189),(198,176),(203,181),(202,186),(205,187),(204,189),(210,185),(211,189),(208,196),(210,198),(202,201),(205,203),(207,205),(205,207),(203,210),(209,206),(210,211),(210,184),
    (203,176),(204,176),(205,176),(206,176),(207,176),(208,176),(209,176),(210,176),(217,172),(218,172),(172,173),(173,174),(175,175),(176,177),(177,178),(180,181),(183,184),(187,188),(194,195),(200,201),(213,213),(216,216),(219,219),
    (223,221),(221,222),(228,221),(232,225),(225,232),(227,233),(226,229),(227,230),(228,231),(229,232),(230,233),(231,234),(227,231),(228,232),(229,230),
    (221,267),(227,274),(233,273),(233,274),(234,241),(234,244),(241,234),(243,234),(245,234),(247,234),(248,234),(241,244),(255,248),(258,248),(261,248),(263,248),(248,255),(248,259),(248,262),
    (235,235),(236,236),(237,237),(238,238),(239,239),(240,240),(241,241),(242,242),(243,243),(244,244),(245,245),(246,246),(247,247),(248,248),(249,249),(250,250),(251,251),(252,252),(253,253),(254,254),(255,255),(256,256),(257,257),(258,258),(259,259),(260,260),(261,261),(262,262),(263,263),(264,264),(265,265),(266,266),(267,267),(268,268),(269,269),(270,270),(271,271),(272,272),(273,273),(274,274),(275,275),(276,276),(277,277),(238,237),(241,240),(249,248),(250,249),(251,250),(252,251),(256,255),(258,257),(263,262),(264,263),(265,266),(267,268),(270,269),(275,276),(276,277),(277,278),(276,278),(274,276),(278,278),(272,273),
    (264,172),(265,172),(266,172),(263,172),(267,179),(267,180),(267,210),(268,220),(270,145),(275,144),(275,164),(272,166),(274,169),(275,172),(275,173),(275,174),(275,226),(274,233),(274,234),(264,277),(264,278),(278,265),(277,265),(276,265),(272,114),(270,109),(265,116),(268,117),(277,115),(277,118),(264,33),(264,34),(258,176),(260,178),(262,174),(270,40),(272,36),(275,33),(274,38),
    # upper right quadrant, mirrored into the lower left
    (2,167),(1,170),(3,174),(2,180),(3,182),(2,191),(3,194),(2,205),(3,214),(6,215),(9,172),(9,177),(8,180),(8,182),(8,185),(8,186),(7,190),(7,201),(9,203),(8,210),(9,209),
    (11,175),(12,181),(13,179),(14,177),(14,166),(14,167),(15,171),(16,170),(19,166),(17,180),(15,194),(16,194),(15,207),(16,209),(16,211),(18,221),(24,144),(25,170),(24,177),(27,176),(27,194),(26,210),(30,210),(23,226),(24,233),(24,240),(30,170),(31,170),(31,194),
    (34,149),(34,151),(34,163),(34,164),(34,165),(34,166),(34,168),(33,169),(34,172),(34,173),(35,176),(35,178),(33,189),(34,190),(34,198),(35,201),(34,205),(36,206),(33,216),(34,217),(34,218),(34,219),(34,220),(34,221),(34,222),(34,223),(34,224),(34,225),(34,226),(35,227),(35,228),(35,229),(35,230),(35,231),(35,232),(35,233),(36,225),(34,273),
    (36,164),(36,168),(36,173),(37,177),(37,181),(37,182),(37,184),(37,186),(37,187),(37,188),(37,189),(37,190),(37,193),(38,193),(38,210),(39,226),(39,265),(39,274),(41,274),
    (39,148),(40,147),(41,149),(42,144),(43,145),(41,148),(42,164),(42,165),(38,166),(41,168),(38,169),(42,168),(43,170),(41,172),(45,169),(45,172),(43,176),(42,179),(43,182),(41,184),(41,203),(43,207),(43,208),(43,233),(44,273),(44,274),(47,176),(47,194),(49,180),(49,183),(50,168),(51,171),(52,166),(51,151),(53,142),(57,144),(56,190),(56,213),(59,220),(59,222),(62,225),(62,226),(64,229),(65,230),(63,233),(67,225),(63,275),(63,150),(67,144),
    (59,165),(62,164),(63,165),(64,166),(62,170),(63,172),(63,177),(64,177),(67,164),(67,165),(67,171),
    (98,179),(98,200),(98,247),(98,262),(98,263),(98,266),(98,267),(99,268),(99,269),(100,270),(100,271),(100,272),(102,273),(102,274),(102,267),(101,144),(101,145),(104,153),(104,156),(101,164),(102,166),(102,168),(102,170),(101,172),(102,172),(101,198),(101,199),(101,200),(101,202),(101,204),(101,226),(106,181),(106,201),(106,202),(110,183),(109,190),(110,191),(111,192),(112,193),(110,234),
    (114,138),(116,140),(114,144),(114,145),(114,146),(114,147),(114,148),(114,149),(114,150),(114,152),(115,157),(117,156),(117,159),(114,164),(114,165),(113,169),(114,171),(114,172),(114,173),(113,177),(115,183),(114,210),(114,220),(114,225),(114,233),(114,274),
    (121,182),(122,186),(121,190),(120,192),(124,190),(125,194),(121,214),(124,212),(125,213),(125,216),(128,151),(127,164),(127,168),(128,171),(128,172),(128,173),(130,158),(133,159),(134,161),(132,162),(131,140),
]

# cells that stand out in the weighted panels: row, col, weight
chem_strong_rows = [3, 8, 78, 93, 114, 174, 174, 174, 174, 174, 35, 34, 199, 200, 199, 199, 199, 170, 168, 166, 205, 36, 37, 39, 165, 166, 212, 188, 34, 34, 36, 173, 175]
chem_strong_cols = [174, 181, 198, 198, 199, 185, 186, 187, 209, 210, 33, 33, 77, 86, 105, 135, 146, 10, 33, 34, 8, 34, 35, 38, 163, 164, 175, 187, 164, 193, 276, 165, 33]
chem_strong_values = [40, 36, 46, 46, 48, 42, 44, 42, 38, 38, 30, 28, 36, 30, 28, 30, 30, 26, 28, 26, 22, 24, 22, 22, 30, 26, 26, 22, 26, 24, 20, 22, 24]
gap_strong_rows = [52, 52, 52, 105, 113, 167, 113, 53, 167, 50, 58, 168]
gap_strong_cols = [106, 114, 113, 50, 50, 13, 49, 106, 14, 10, 33, 10]
gap_strong_values = [230, 220, 200, 190, 190, 180, 170, 150, 120, 110, 100, 90]

rdbu_r = ['#053061', '#2166ac', '#4393c3', '#92c5de', '#d1e5f0', '#f7f7f7', '#fddbc7', '#f4a582', '#d6604d', '#b2182b', '#67001f']
reds_half = ['#f7f7f7', '#fddbc7', '#f4a582', '#d6604d', '#b2182b', '#67001f']


def make_scale(colors):
    return [[i / (len(colors) - 1), c] for i, c in enumerate(colors)]


def to_matrix(cells, value, symmetric=False):
    z = np.zeros((N, N))
    for r, c in cells:
        z[r, c] = value
        if symmetric:
            z[c, r] = value
    return z


def add_strong(z, rows, cols, values, symmetric=False):
    z = z.copy()
    for r, c, v in zip(rows, cols, values):
        z[r, c] = v
        if symmetric:
            z[c, r] = v
    return z


chem_weighted = add_strong(to_matrix(chem_cells, chem_base_weight), chem_strong_rows, chem_strong_cols, chem_strong_values)
gap_weighted = add_strong(to_matrix(gap_cells, gap_base_weight, True), gap_strong_rows, gap_strong_cols, gap_strong_values, True)
chem_binary = (chem_weighted > 0).astype(float)
gap_binary = (gap_weighted > 0).astype(float)

W, H = 1008, 978
panels = [
    (chem_weighted, 0, chem_max, chem_ticks, rdbu_r, 11, 76, 438, 106),
    (gap_weighted, 0, gap_max, gap_ticks, rdbu_r, 513, 76, 941, 106),
    (chem_binary, 0, 1, binary_ticks, reds_half, 11, 565, 438, 595),
    (gap_binary, 0, 1, binary_ticks, reds_half, 513, 565, 941, 595),
]

fig = go.Figure()
annotations = [dict(text='Visualization of C.elegans Connectomes', x=497 / W, y=1 - 15 / H, xref='paper', yref='paper',
                    showarrow=False, xanchor='center', yanchor='middle', font=dict(size=20))]
layout_axes = {}

for i, (z, zmin, zmax, ticks, colors, left, top, bar_left, bar_top) in enumerate(panels):
    name = '' if i == 0 else str(i + 1)
    fig.add_trace(go.Heatmap(
        z=z, zmin=zmin, zmax=zmax, colorscale=make_scale(colors),
        xaxis='x' + name, yaxis='y' + name, hoverinfo='skip',
        colorbar=dict(x=bar_left / W, xanchor='left', y=1 - (bar_top + 171) / H, yanchor='middle',
                      len=342, lenmode='pixels', thickness=18, xpad=0, ypad=0, outlinewidth=0,
                      tickmode='array', tickvals=ticks, ticktext=[str(t) for t in ticks],
                      ticks='outside', ticklen=9, tickwidth=1.5, tickcolor='#000', tickfont=dict(size=16)),
    ))
    layout_axes['xaxis' + name] = dict(domain=[left / W, (left + 400) / W], range=[-0.5, N - 0.5], visible=False)
    layout_axes['yaxis' + name] = dict(domain=[1 - (top + 402) / H, 1 - top / H], range=[N - 0.5, -0.5], visible=False)
    annotations.append(dict(text=titles[i], x=(left + 200) / W, y=1 - (top - 11) / H, xref='paper', yref='paper',
                            showarrow=False, xanchor='center', yanchor='middle', font=dict(size=18)))

fig.update_layout(width=W, height=H, margin=dict(l=0, r=0, t=0, b=0, autoexpand=False), paper_bgcolor='white',
                  plot_bgcolor='white', font=dict(family='DejaVu Sans', color='#262626'), annotations=annotations, **layout_axes)

# the page body has a default margin that would shift the figure
fig.write_html("out.html", config={'displayModeBar': False}, post_script="document.body.style.margin='0';")
